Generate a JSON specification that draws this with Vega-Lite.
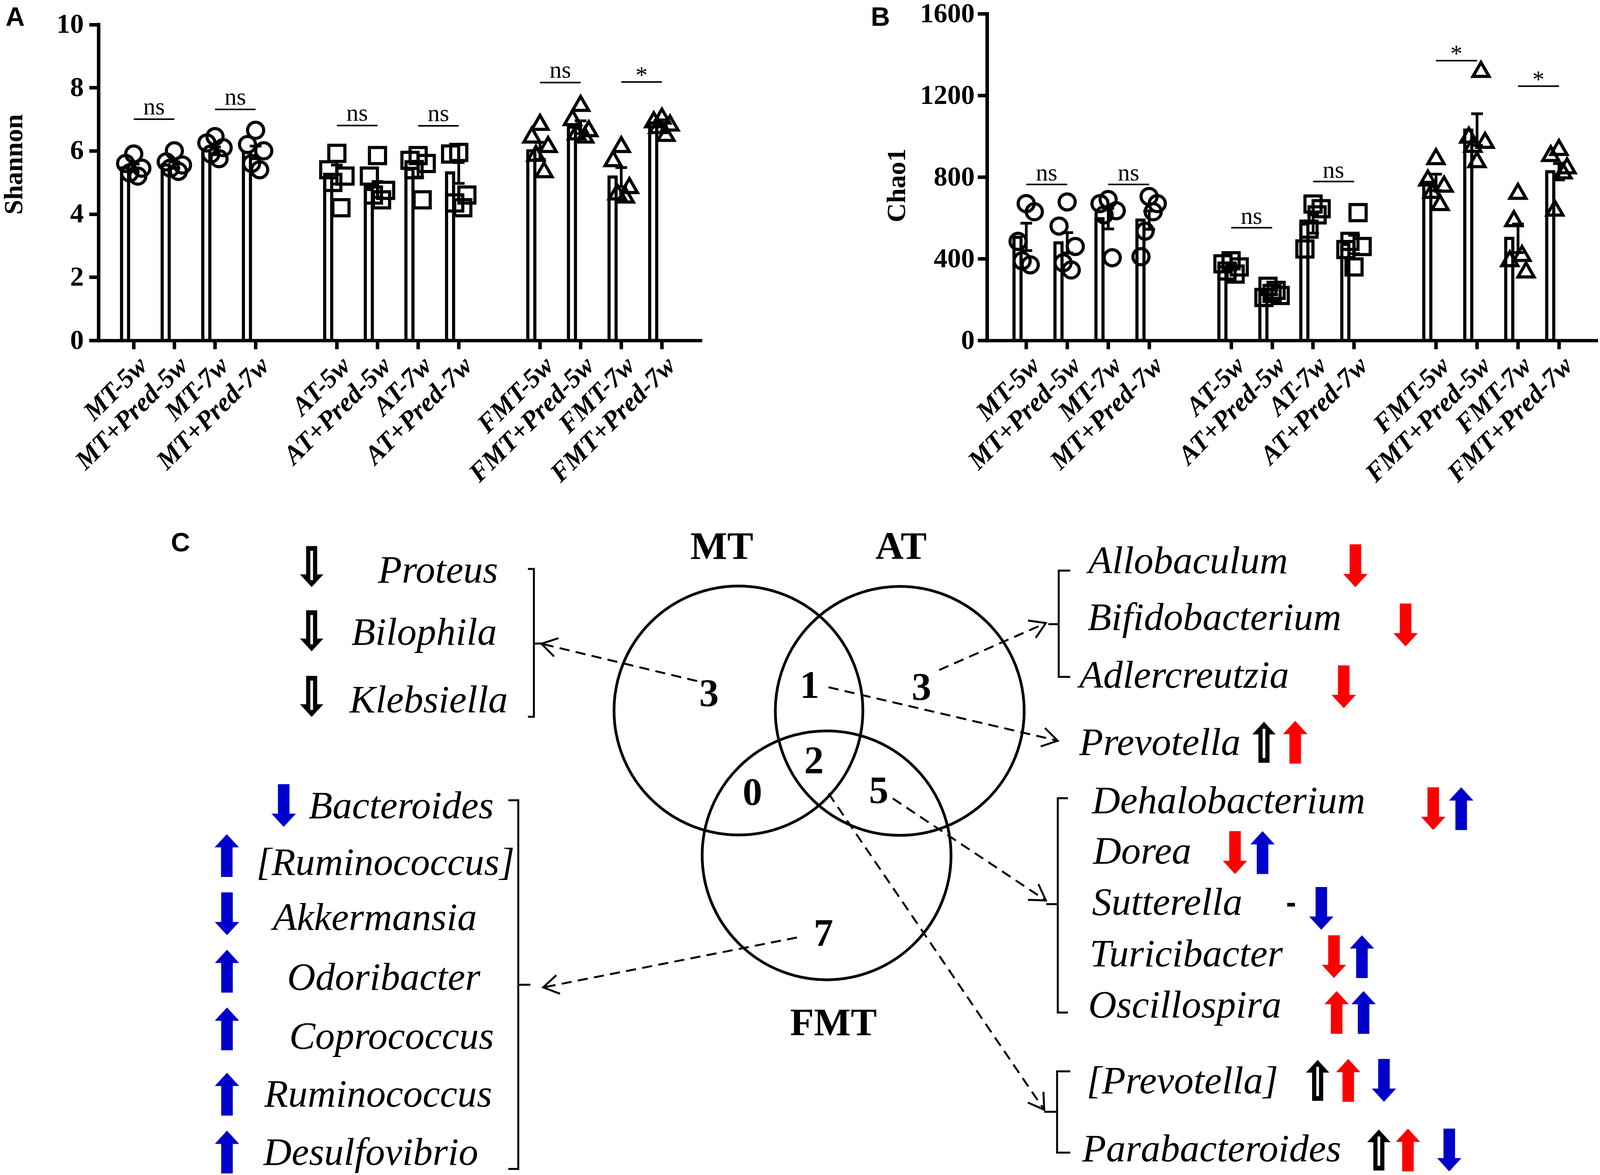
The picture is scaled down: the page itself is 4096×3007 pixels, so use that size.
{
"$schema": "https://vega.github.io/schema/vega-lite/v6.json",
"autosize": {"type": "pad"},
"padding": 0,
"background": "white",
"config": {
  "view": {"stroke": null},
  "font": "Liberation Serif",
  "axis": {"grid": false, "domainColor": "#000000", "tickColor": "#000000", "labelColor": "#000000", "titleColor": "#000000", "domainCap": "square"}
},
"datasets": {
  "shannon": [
    {"g":"MT-5w","v":5.46,"lo":5.34,"hi":5.58},
    {"g":"MT+Pred-5w","v":5.55,"lo":5.45,"hi":5.65},
    {"g":"MT-7w","v":6.0,"lo":5.88,"hi":6.12},
    {"g":"MT+Pred-7w","v":5.95,"lo":5.75,"hi":6.15},
    {"g":"AT-5w","v":5.25,"lo":4.95,"hi":5.55},
    {"g":"AT+Pred-5w","v":4.78,"lo":4.53,"hi":5.03},
    {"g":"AT-7w","v":5.42,"lo":5.17,"hi":5.67},
    {"g":"AT+Pred-7w","v":5.3,"lo":4.97,"hi":5.63},
    {"g":"FMT-5w","v":6.0,"lo":5.73,"hi":6.27},
    {"g":"FMT+Pred-5w","v":6.75,"lo":6.55,"hi":6.95},
    {"g":"FMT-7w","v":5.17,"lo":4.87,"hi":5.47},
    {"g":"FMT+Pred-7w","v":6.88,"lo":6.78,"hi":6.98}
  ],
  "shannonPts": [
    {"g":"MT-5w","k":"MT","r":3,"v":5.9},{"g":"MT-5w","k":"MT","r":1,"v":5.6},{"g":"MT-5w","k":"MT","r":5,"v":5.45},{"g":"MT-5w","k":"MT","r":2,"v":5.3},{"g":"MT-5w","k":"MT","r":4,"v":5.2},
    {"g":"MT+Pred-5w","k":"MT","r":3,"v":6.0},{"g":"MT+Pred-5w","k":"MT","r":1,"v":5.65},{"g":"MT+Pred-5w","k":"MT","r":5,"v":5.55},{"g":"MT+Pred-5w","k":"MT","r":2,"v":5.45},{"g":"MT+Pred-5w","k":"MT","r":4,"v":5.35},
    {"g":"MT-7w","k":"MT","r":3,"v":6.45},{"g":"MT-7w","k":"MT","r":1,"v":6.25},{"g":"MT-7w","k":"MT","r":5,"v":6.1},{"g":"MT-7w","k":"MT","r":2,"v":5.9},{"g":"MT-7w","k":"MT","r":4,"v":5.75},
    {"g":"MT+Pred-7w","k":"MT","r":3,"v":6.65},{"g":"MT+Pred-7w","k":"MT","r":1,"v":6.2},{"g":"MT+Pred-7w","k":"MT","r":5,"v":6.0},{"g":"MT+Pred-7w","k":"MT","r":2,"v":5.6},{"g":"MT+Pred-7w","k":"MT","r":4,"v":5.4},
    {"g":"AT-5w","k":"AT","r":3,"v":5.92},{"g":"AT-5w","k":"AT","r":1,"v":5.4},{"g":"AT-5w","k":"AT","r":5,"v":5.2},{"g":"AT-5w","k":"AT","r":2,"v":5.0},{"g":"AT-5w","k":"AT","r":4,"v":4.2},
    {"g":"AT+Pred-5w","k":"AT","r":3,"v":5.85},{"g":"AT+Pred-5w","k":"AT","r":1,"v":5.2},{"g":"AT+Pred-5w","k":"AT","r":5,"v":4.75},{"g":"AT+Pred-5w","k":"AT","r":2,"v":4.6},{"g":"AT+Pred-5w","k":"AT","r":4,"v":4.45},
    {"g":"AT-7w","k":"AT","r":3,"v":5.85},{"g":"AT-7w","k":"AT","r":1,"v":5.7},{"g":"AT-7w","k":"AT","r":5,"v":5.6},{"g":"AT-7w","k":"AT","r":2,"v":5.4},{"g":"AT-7w","k":"AT","r":4,"v":4.45},
    {"g":"AT+Pred-7w","k":"AT","r":3,"v":5.95},{"g":"AT+Pred-7w","k":"AT","r":1,"v":5.9},{"g":"AT+Pred-7w","k":"AT","r":5,"v":4.6},{"g":"AT+Pred-7w","k":"AT","r":2,"v":4.35},{"g":"AT+Pred-7w","k":"AT","r":4,"v":4.2},
    {"g":"FMT-5w","k":"FMT","r":3,"v":6.9},{"g":"FMT-5w","k":"FMT","r":1,"v":6.5},{"g":"FMT-5w","k":"FMT","r":5,"v":6.2},{"g":"FMT-5w","k":"FMT","r":2,"v":5.92},{"g":"FMT-5w","k":"FMT","r":4,"v":5.4},
    {"g":"FMT+Pred-5w","k":"FMT","r":3,"v":7.5},{"g":"FMT+Pred-5w","k":"FMT","r":1,"v":7.05},{"g":"FMT+Pred-5w","k":"FMT","r":5,"v":6.7},{"g":"FMT+Pred-5w","k":"FMT","r":2,"v":6.6},{"g":"FMT+Pred-5w","k":"FMT","r":4,"v":6.5},
    {"g":"FMT-7w","k":"FMT","r":3,"v":6.2},{"g":"FMT-7w","k":"FMT","r":1,"v":5.75},{"g":"FMT-7w","k":"FMT","r":5,"v":4.9},{"g":"FMT-7w","k":"FMT","r":2,"v":4.7},{"g":"FMT-7w","k":"FMT","r":4,"v":4.6},
    {"g":"FMT+Pred-7w","k":"FMT","r":3,"v":7.1},{"g":"FMT+Pred-7w","k":"FMT","r":1,"v":6.98},{"g":"FMT+Pred-7w","k":"FMT","r":5,"v":6.88},{"g":"FMT+Pred-7w","k":"FMT","r":2,"v":6.8},{"g":"FMT+Pred-7w","k":"FMT","r":4,"v":6.55}
  ],
  "sigA": [
    {"a":"MT-5w","b":"MT+Pred-5w","y":7.0,"t":"ns"},
    {"a":"MT-7w","b":"MT+Pred-7w","y":7.31,"t":"ns"},
    {"a":"AT-5w","b":"AT+Pred-5w","y":6.8,"t":"ns"},
    {"a":"AT-7w","b":"AT+Pred-7w","y":6.79,"t":"ns"},
    {"a":"FMT-5w","b":"FMT+Pred-5w","y":8.16,"t":"ns"},
    {"a":"FMT-7w","b":"FMT+Pred-7w","y":8.18,"t":"*"}
  ],
  "chao": [
    {"g":"MT-5w","v":505,"lo":440,"hi":574},
    {"g":"MT+Pred-5w","v":478,"lo":428,"hi":528},
    {"g":"MT-7w","v":596,"lo":546,"hi":646},
    {"g":"MT+Pred-7w","v":589,"lo":544,"hi":634},
    {"g":"AT-5w","v":360,"lo":345,"hi":375},
    {"g":"AT+Pred-5w","v":235,"lo":223,"hi":247},
    {"g":"AT-7w","v":570,"lo":525,"hi":615},
    {"g":"AT+Pred-7w","v":470,"lo":425,"hi":515},
    {"g":"FMT-5w","v":774,"lo":734,"hi":814},
    {"g":"FMT+Pred-5w","v":1030,"lo":955,"hi":1110},
    {"g":"FMT-7w","v":500,"lo":430,"hi":570},
    {"g":"FMT+Pred-7w","v":826,"lo":786,"hi":866}
  ],
  "chaoPts": [
    {"g":"MT-5w","k":"MT","r":3,"v":670},{"g":"MT-5w","k":"MT","r":5,"v":630},{"g":"MT-5w","k":"MT","r":1,"v":485},{"g":"MT-5w","k":"MT","r":2,"v":390},{"g":"MT-5w","k":"MT","r":4,"v":370},
    {"g":"MT+Pred-5w","k":"MT","r":3,"v":678},{"g":"MT+Pred-5w","k":"MT","r":1,"v":560},{"g":"MT+Pred-5w","k":"MT","r":5,"v":460},{"g":"MT+Pred-5w","k":"MT","r":2,"v":380},{"g":"MT+Pred-5w","k":"MT","r":4,"v":345},
    {"g":"MT-7w","k":"MT","r":3,"v":690},{"g":"MT-7w","k":"MT","r":1,"v":670},{"g":"MT-7w","k":"MT","r":5,"v":635},{"g":"MT-7w","k":"MT","r":2,"v":615},{"g":"MT-7w","k":"MT","r":4,"v":405},
    {"g":"MT+Pred-7w","k":"MT","r":3,"v":705},{"g":"MT+Pred-7w","k":"MT","r":5,"v":670},{"g":"MT+Pred-7w","k":"MT","r":4,"v":630},{"g":"MT+Pred-7w","k":"MT","r":2,"v":535},{"g":"MT+Pred-7w","k":"MT","r":1,"v":410},
    {"g":"AT-5w","k":"AT","r":3,"v":390},{"g":"AT-5w","k":"AT","r":1,"v":375},{"g":"AT-5w","k":"AT","r":5,"v":360},{"g":"AT-5w","k":"AT","r":2,"v":340},{"g":"AT-5w","k":"AT","r":4,"v":325},
    {"g":"AT+Pred-5w","k":"AT","r":2,"v":265},{"g":"AT+Pred-5w","k":"AT","r":4,"v":245},{"g":"AT+Pred-5w","k":"AT","r":3,"v":230},{"g":"AT+Pred-5w","k":"AT","r":5,"v":220},{"g":"AT+Pred-5w","k":"AT","r":1,"v":210},
    {"g":"AT-7w","k":"AT","r":3,"v":668},{"g":"AT-7w","k":"AT","r":5,"v":645},{"g":"AT-7w","k":"AT","r":4,"v":615},{"g":"AT-7w","k":"AT","r":2,"v":545},{"g":"AT-7w","k":"AT","r":1,"v":448},
    {"g":"AT+Pred-7w","k":"AT","r":4,"v":626},{"g":"AT+Pred-7w","k":"AT","r":2,"v":485},{"g":"AT+Pred-7w","k":"AT","r":5,"v":460},{"g":"AT+Pred-7w","k":"AT","r":1,"v":445},{"g":"AT+Pred-7w","k":"AT","r":3,"v":360},
    {"g":"FMT-5w","k":"FMT","r":3,"v":900},{"g":"FMT-5w","k":"FMT","r":1,"v":795},{"g":"FMT-5w","k":"FMT","r":5,"v":765},{"g":"FMT-5w","k":"FMT","r":2,"v":735},{"g":"FMT-5w","k":"FMT","r":4,"v":675},
    {"g":"FMT+Pred-5w","k":"FMT","r":4,"v":1327},{"g":"FMT+Pred-5w","k":"FMT","r":1,"v":1005},{"g":"FMT+Pred-5w","k":"FMT","r":5,"v":980},{"g":"FMT+Pred-5w","k":"FMT","r":2,"v":960},{"g":"FMT+Pred-5w","k":"FMT","r":3,"v":885},
    {"g":"FMT-7w","k":"FMT","r":3,"v":730},{"g":"FMT-7w","k":"FMT","r":2,"v":596},{"g":"FMT-7w","k":"FMT","r":4,"v":426},{"g":"FMT-7w","k":"FMT","r":1,"v":400},{"g":"FMT-7w","k":"FMT","r":5,"v":345},
    {"g":"FMT+Pred-7w","k":"FMT","r":3,"v":945},{"g":"FMT+Pred-7w","k":"FMT","r":1,"v":915},{"g":"FMT+Pred-7w","k":"FMT","r":5,"v":855},{"g":"FMT+Pred-7w","k":"FMT","r":4,"v":830},{"g":"FMT+Pred-7w","k":"FMT","r":2,"v":648}
  ],
  "sigB": [
    {"a":"MT-5w","b":"MT+Pred-5w","y":764,"t":"ns"},
    {"a":"MT-7w","b":"MT+Pred-7w","y":764,"t":"ns"},
    {"a":"AT-5w","b":"AT+Pred-5w","y":552,"t":"ns"},
    {"a":"AT-7w","b":"AT+Pred-7w","y":778,"t":"ns"},
    {"a":"FMT-5w","b":"FMT+Pred-5w","y":1370,"t":"*"},
    {"a":"FMT-7w","b":"FMT+Pred-7w","y":1245,"t":"*"}
  ],
  "circles": [
    {"set":"MT","x":723.3,"y":693.8},
    {"set":"AT","x":881.4,"y":694.2},
    {"set":"FMT","x":809.7,"y":835.7}
  ],
  "vennText": [
    {"t":"MT","x":707,"y":545},{"t":"AT","x":882.7,"y":545},{"t":"FMT","x":816.4,"y":1012},
    {"t":"3","x":694.4,"y":689},{"t":"1","x":793,"y":681.6},{"t":"3","x":902.7,"y":683},
    {"t":"2","x":797.3,"y":755},{"t":"0","x":737,"y":786},{"t":"5","x":860.8,"y":784.5},{"t":"7","x":806.6,"y":924}
  ],
  "dashes": [
    {"id":1,"o":0,"x":682.8,"y":665},{"id":1,"o":1,"x":530.2,"y":628.4},
    {"id":2,"o":0,"x":920,"y":654.2},{"id":2,"o":1,"x":1024.6,"y":608.1},
    {"id":3,"o":0,"x":811.6,"y":671},{"id":3,"o":1,"x":1036.2,"y":723.4},
    {"id":4,"o":0,"x":874.6,"y":780},{"id":4,"o":1,"x":1024.6,"y":879.9},
    {"id":5,"o":0,"x":811.6,"y":775},{"id":5,"o":1,"x":1023,"y":1085},
    {"id":6,"o":0,"x":780.7,"y":916.2},{"id":6,"o":1,"x":531.9,"y":965.1}
  ],
  "heads": [
    {"x":530.2,"y":628.4,"a":193.5},{"x":1024.6,"y":608.1,"a":-23.8},{"x":1036.2,"y":723.4,"a":13.1},
    {"x":1024.6,"y":879.9,"a":33.7},{"x":1023,"y":1085,"a":55.7},{"x":531.9,"y":965.1,"a":168.9}
  ],
  "brackets": [
    {"id":"b1","o":0,"x":517,"y":555.1},{"id":"b1","o":1,"x":522.8,"y":555.1},{"id":"b1","o":2,"x":522.8,"y":699.9},{"id":"b1","o":3,"x":517,"y":699.9},
    {"id":"t1","o":0,"x":522.8,"y":628.2},{"id":"t1","o":1,"x":530,"y":628.2},
    {"id":"b2","o":0,"x":497.7,"y":781.8},{"id":"b2","o":1,"x":507.5,"y":781.8},{"id":"b2","o":2,"x":507.5,"y":1143},{"id":"b2","o":3,"x":497.7,"y":1143},
    {"id":"t2","o":0,"x":507.5,"y":962.5},{"id":"t2","o":1,"x":519.4,"y":962.5},
    {"id":"b3","o":0,"x":1048.5,"y":556.7},{"id":"b3","o":1,"x":1037.2,"y":556.7},{"id":"b3","o":2,"x":1037.2,"y":660.9},{"id":"b3","o":3,"x":1048.5,"y":660.9},
    {"id":"t3","o":0,"x":1037.2,"y":609.2},{"id":"t3","o":1,"x":1027,"y":609.2},
    {"id":"b4","o":0,"x":1046.2,"y":779.7},{"id":"b4","o":1,"x":1036.3,"y":779.7},{"id":"b4","o":2,"x":1036.3,"y":989.7},{"id":"b4","o":3,"x":1046.2,"y":989.7},
    {"id":"t4","o":0,"x":1036.3,"y":883.5},{"id":"t4","o":1,"x":1025,"y":883.5},
    {"id":"b5","o":0,"x":1048.5,"y":1047.3},{"id":"b5","o":1,"x":1035.6,"y":1047.3},{"id":"b5","o":2,"x":1035.6,"y":1127},{"id":"b5","o":3,"x":1048.5,"y":1127},
    {"id":"t5","o":0,"x":1035.6,"y":1087},{"id":"t5","o":1,"x":1023,"y":1087}
  ],
  "genera": [
    {"t":"Proteus","x":370,"y":568.5},
    {"t":"Bilophila","x":344,"y":629.4},
    {"t":"Klebsiella","x":342,"y":695.8},
    {"t":"Bacteroides","x":302,"y":799.5},
    {"t":"[Ruminococcus]","x":250.8,"y":854.9},
    {"t":"Akkermansia","x":267,"y":908.7},
    {"t":"Odoribacter","x":281,"y":967.5},
    {"t":"Coprococcus","x":283,"y":1025.4},
    {"t":"Ruminococcus","x":258.5,"y":1082},
    {"t":"Desulfovibrio","x":257.7,"y":1138.8},
    {"t":"Allobaculum","x":1066.2,"y":559.2},
    {"t":"Bifidobacterium","x":1065.4,"y":614.7},
    {"t":"Adlercreutzia","x":1057.4,"y":671.4},
    {"t":"Prevotella","x":1057.4,"y":737.3},
    {"t":"Dehalobacterium","x":1069.8,"y":794.4},
    {"t":"Dorea","x":1070.8,"y":843.6},
    {"t":"Sutterella","x":1069.8,"y":894},
    {"t":"Turicibacter","x":1067.5,"y":944.4},
    {"t":"Oscillospira","x":1066.2,"y":994.8},
    {"t":"[Prevotella]","x":1064.5,"y":1069},
    {"t":"Parabacteroides","x":1060.3,"y":1135.5}
  ],
  "arrows": [
    {"model":"MT","dir":"down","x":305,"y":552.8},
    {"model":"MT","dir":"down","x":305,"y":615.7},
    {"model":"MT","dir":"down","x":305,"y":680},
    {"model":"FMT","dir":"down","x":277.6,"y":786.9},
    {"model":"FMT","dir":"up","x":221.8,"y":835.9},
    {"model":"FMT","dir":"down","x":222,"y":893},
    {"model":"FMT","dir":"up","x":222,"y":949.2},
    {"model":"FMT","dir":"up","x":222,"y":1005.7},
    {"model":"FMT","dir":"up","x":222,"y":1069.7},
    {"model":"FMT","dir":"up","x":222,"y":1126.4},
    {"model":"AT","dir":"down","x":1328,"y":552},
    {"model":"AT","dir":"down","x":1377.2,"y":610},
    {"model":"AT","dir":"down","x":1316.6,"y":670.5},
    {"model":"MT","dir":"up","x":1238.4,"y":724.9},
    {"model":"AT","dir":"up","x":1269,"y":724.9},
    {"model":"AT","dir":"down","x":1404.3,"y":790},
    {"model":"FMT","dir":"up","x":1431.7,"y":790},
    {"model":"AT","dir":"down","x":1210,"y":833},
    {"model":"FMT","dir":"up","x":1237,"y":833},
    {"model":"FMT","dir":"down","x":1294.6,"y":887.7},
    {"model":"AT","dir":"down","x":1307,"y":935},
    {"model":"FMT","dir":"up","x":1334.4,"y":935},
    {"model":"AT","dir":"up","x":1309.6,"y":989.6},
    {"model":"FMT","dir":"up","x":1336,"y":989.6},
    {"model":"MT","dir":"up","x":1291,"y":1056.2},
    {"model":"AT","dir":"up","x":1321,"y":1056.2},
    {"model":"FMT","dir":"down","x":1356,"y":1056.2},
    {"model":"MT","dir":"up","x":1351,"y":1124.4},
    {"model":"AT","dir":"up","x":1379.5,"y":1124.4},
    {"model":"FMT","dir":"down","x":1420,"y":1124.4}
  ],
  "panels": [
    {"t":"A","x":5,"y":22.8},{"t":"B","x":853,"y":23},{"t":"C","x":167,"y":538}
  ],
  "corner": [
    {"x":0,"y":0}
  ]
},
"concat": [
  {
    "width": 1541, "height": 836.2,
    "encoding": {
      "x": {"field": "g", "type": "nominal", "sort": null,
        "scale": {"domain": ["MT-5w","MT+Pred-5w","MT-7w","MT+Pred-7w"," ","AT-5w","AT+Pred-5w","AT-7w","AT+Pred-7w","  ","FMT-5w","FMT+Pred-5w","FMT-7w","FMT+Pred-7w"], "paddingInner": 0.4, "paddingOuter": 0.6085, "align": 0.4675},
        "axis": {"values": ["MT-5w","MT+Pred-5w","MT-7w","MT+Pred-7w","AT-5w","AT+Pred-5w","AT-7w","AT+Pred-7w","FMT-5w","FMT+Pred-5w","FMT-7w","FMT+Pred-7w"], "title": null, "labelAngle": -45, "labelAlign": "right", "labelBaseline": "top", "labelFont": "Liberation Serif", "labelFontSize": 68, "labelFontWeight": "bold", "labelFontStyle": "italic", "labelPadding": 8, "labelLimit": 2000, "labelOverlap": false, "tickSize": 22, "tickWidth": 9, "domainWidth": 8.5}
      }
    },
    "layer": [
      {"data": {"name": "shannon"}, "mark": {"type": "bar", "fill": "#ffffff", "stroke": "#000000", "strokeWidth": 8},
       "encoding": {"y": {"field": "v", "type": "quantitative", "scale": {"domain": [0, 10], "range": [836.2, 27.5], "nice": false},
         "axis": {"values": [0,2,4,6,8,10], "format": "d", "title": "Shannon", "titleFont": "Liberation Serif", "titleFontSize": 68, "titleFontWeight": "bold", "titleAngle": -90, "titleAlign": "center", "titleBaseline": "alphabetic", "titleX": -196, "titleY": 385.3, "labelFont": "Liberation Serif", "labelFontSize": 70, "labelFontWeight": "bold", "labelPadding": 14, "tickSize": 24, "tickWidth": 9, "domainWidth": 9}}}},
      {"data": {"name": "shannon"}, "mark": {"type": "rule", "strokeWidth": 7, "color": "#000000"},
       "encoding": {"y": {"field": "lo", "type": "quantitative"}, "y2": {"field": "hi"}}},
      {"data": {"name": "shannon"}, "mark": {"type": "tick", "orient": "horizontal", "size": 30, "thickness": 7, "color": "#000000", "opacity": 1},
       "encoding": {"y": {"field": "hi", "type": "quantitative"}}},
      {"data": {"name": "shannon"}, "mark": {"type": "tick", "orient": "horizontal", "size": 30, "thickness": 7, "color": "#000000", "opacity": 1},
       "encoding": {"y": {"field": "lo", "type": "quantitative"}}},
      {"data": {"name": "shannonPts"}, "mark": {"type": "point", "filled": false, "size": 1700, "strokeWidth": 8, "color": "#000000", "opacity": 1},
       "encoding": {"xOffset": {"field": "r", "type": "nominal", "scale": {"paddingOuter": 1, "paddingInner": 0}},
         "y": {"field": "v", "type": "quantitative"},
         "shape": {"field": "k", "type": "nominal", "scale": {"domain": ["MT","AT","FMT"], "range": ["circle","square","triangle-up"]}, "legend": null}}},
      {"data": {"name": "sigA"}, "mark": {"type": "rule", "strokeWidth": 4, "color": "#000000"},
       "encoding": {"x": {"field": "a", "type": "nominal"}, "x2": {"field": "b"}, "y": {"field": "y", "type": "quantitative"}}},
      {"data": {"name": "sigA"}, "transform": [{"filter": "datum.t === 'ns'"}],
       "mark": {"type": "text", "font": "Liberation Serif", "fontSize": 62, "dx": 52, "dy": -12, "align": "center", "baseline": "alphabetic", "color": "#000000"},
       "encoding": {"x": {"field": "a", "type": "nominal"}, "y": {"field": "y", "type": "quantitative"}, "text": {"field": "t"}}},
      {"data": {"name": "sigA"}, "transform": [{"filter": "datum.t === '*'"}],
       "mark": {"type": "text", "font": "Liberation Serif", "fontSize": 62, "dx": 52, "dy": 2, "align": "center", "baseline": "alphabetic", "color": "#000000"},
       "encoding": {"x": {"field": "a", "type": "nominal"}, "y": {"field": "y", "type": "quantitative"}, "text": {"field": "t"}}}
    ]
  },
  {
    "width": 1563.6, "height": 836.2,
    "encoding": {
      "x": {"field": "g", "type": "nominal", "sort": null,
        "scale": {"domain": ["MT-5w","MT+Pred-5w","MT-7w","MT+Pred-7w"," ","AT-5w","AT+Pred-5w","AT-7w","AT+Pred-7w","  ","FMT-5w","FMT+Pred-5w","FMT-7w","FMT+Pred-7w"], "paddingInner": 0.4, "paddingOuter": 0.6525, "align": 0.505},
        "axis": {"values": ["MT-5w","MT+Pred-5w","MT-7w","MT+Pred-7w","AT-5w","AT+Pred-5w","AT-7w","AT+Pred-7w","FMT-5w","FMT+Pred-5w","FMT-7w","FMT+Pred-7w"], "title": null, "labelAngle": -45, "labelAlign": "right", "labelBaseline": "top", "labelFont": "Liberation Serif", "labelFontSize": 68, "labelFontWeight": "bold", "labelFontStyle": "italic", "labelPadding": 8, "labelLimit": 2000, "labelOverlap": false, "tickSize": 22, "tickWidth": 9, "domainWidth": 8.5}
      }
    },
    "layer": [
      {"data": {"name": "chao"}, "mark": {"type": "bar", "fill": "#ffffff", "stroke": "#000000", "strokeWidth": 8},
       "encoding": {"y": {"field": "v", "type": "quantitative", "scale": {"domain": [0, 1600], "nice": false},
         "axis": {"values": [0,400,800,1200,1600], "format": "d", "title": "Chao1", "titleFont": "Liberation Serif", "titleFontSize": 68, "titleFontWeight": "bold", "titleAngle": -90, "titleAlign": "center", "titleBaseline": "alphabetic", "titleX": -210, "titleY": 439, "labelFont": "Liberation Serif", "labelFontSize": 70, "labelFontWeight": "bold", "labelPadding": 8, "tickSize": 24, "tickWidth": 9, "domainWidth": 9}}}},
      {"data": {"name": "chao"}, "mark": {"type": "rule", "strokeWidth": 7, "color": "#000000"},
       "encoding": {"y": {"field": "lo", "type": "quantitative"}, "y2": {"field": "hi"}}},
      {"data": {"name": "chao"}, "mark": {"type": "tick", "orient": "horizontal", "size": 30, "thickness": 7, "color": "#000000", "opacity": 1},
       "encoding": {"y": {"field": "hi", "type": "quantitative"}}},
      {"data": {"name": "chao"}, "mark": {"type": "tick", "orient": "horizontal", "size": 30, "thickness": 7, "color": "#000000", "opacity": 1},
       "encoding": {"y": {"field": "lo", "type": "quantitative"}}},
      {"data": {"name": "chaoPts"}, "mark": {"type": "point", "filled": false, "size": 1700, "strokeWidth": 8, "color": "#000000", "opacity": 1},
       "encoding": {"xOffset": {"field": "r", "type": "nominal", "scale": {"paddingOuter": 1, "paddingInner": 0}},
         "y": {"field": "v", "type": "quantitative"},
         "shape": {"field": "k", "type": "nominal", "scale": {"domain": ["MT","AT","FMT"], "range": ["circle","square","triangle-up"]}, "legend": null}}},
      {"data": {"name": "sigB"}, "mark": {"type": "rule", "strokeWidth": 4, "color": "#000000"},
       "encoding": {"x": {"field": "a", "type": "nominal"}, "x2": {"field": "b"}, "y": {"field": "y", "type": "quantitative"}}},
      {"data": {"name": "sigB"}, "transform": [{"filter": "datum.t === 'ns'"}],
       "mark": {"type": "text", "font": "Liberation Serif", "fontSize": 62, "dx": 52, "dy": -10, "align": "center", "baseline": "alphabetic", "color": "#000000"},
       "encoding": {"x": {"field": "a", "type": "nominal"}, "y": {"field": "y", "type": "quantitative"}, "text": {"field": "t"}}},
      {"data": {"name": "sigB"}, "transform": [{"filter": "datum.t === '*'"}],
       "mark": {"type": "text", "font": "Liberation Serif", "fontSize": 62, "dx": 52, "dy": 2, "align": "center", "baseline": "alphabetic", "color": "#000000"},
       "encoding": {"x": {"field": "a", "type": "nominal"}, "y": {"field": "y", "type": "quantitative"}, "text": {"field": "t"}}}
    ]
  },
  {
    "width": 1541, "height": 1752.7,
    "encoding": {
      "x": {"field": "x", "type": "quantitative", "scale": {"domain": [96, 686], "nice": false, "zero": false}, "axis": null},
      "y": {"field": "y", "type": "quantitative", "scale": {"domain": [480, 1151], "nice": false, "zero": false, "reverse": true}, "axis": null}
    },
    "resolve": {"scale": {"shape": "independent"}},
    "layer": [
      {"data": {"name": "corner"}, "mark": {"type": "point", "shape": "square", "size": 1, "filled": true, "color": "#ffffff", "opacity": 1}},
      {"data": {"name": "circles"}, "mark": {"type": "point", "shape": "circle", "size": 405800, "filled": false, "strokeWidth": 7, "color": "#000000", "opacity": 1}},
      {"data": {"name": "dashes"}, "mark": {"type": "line", "strokeDash": [26, 16], "strokeWidth": 5, "color": "#000000"},
       "encoding": {"detail": {"field": "id"}, "order": {"field": "o"}}},
      {"data": {"name": "heads"}, "mark": {"type": "point", "shape": "M-1,-0.62L0,0L-1,0.62", "size": 6100, "filled": false, "strokeWidth": 5, "color": "#000000", "opacity": 1},
       "encoding": {"angle": {"field": "a", "type": "quantitative", "scale": null}}},
      {"data": {"name": "brackets"}, "mark": {"type": "line", "strokeWidth": 5, "color": "#000000"},
       "encoding": {"detail": {"field": "id"}, "order": {"field": "o"}}},
      {"data": {"name": "vennText"}, "mark": {"type": "text", "font": "Liberation Serif", "fontWeight": "bold", "fontSize": 100, "align": "center", "baseline": "alphabetic", "color": "#000000"},
       "encoding": {"text": {"field": "t"}}},
      {"data": {"name": "genera"}, "mark": {"type": "text", "font": "Liberation Serif", "fontStyle": "italic", "fontSize": 100, "align": "left", "baseline": "alphabetic", "color": "#000000"},
       "encoding": {"text": {"field": "t"}}},
      {"data": {"name": "arrows"}, "transform": [{"filter": "datum.model === 'MT'"}],
       "mark": {"type": "point", "filled": true, "size": 11000, "strokeWidth": 0, "opacity": 1},
       "encoding": {
         "shape": {"field": "dir", "type": "nominal", "scale": {"domain": ["up","down"], "range": ["M0,-1L0.57,-0.38L0.27,-0.38L0.27,1L-0.27,1L-0.27,-0.38L-0.57,-0.38ZM-0.066,-0.66L-0.066,0.77L0.066,0.77L0.066,-0.66Z", "M0,1L0.57,0.38L0.27,0.38L0.27,-1L-0.27,-1L-0.27,0.38L-0.57,0.38ZM-0.066,0.66L-0.066,-0.77L0.066,-0.77L0.066,0.66Z"]}, "legend": null},
         "fill": {"field": "model", "type": "nominal", "scale": {"domain": ["MT","AT","FMT"], "range": ["#000000","#ff0000","#0000cc"]}, "legend": null}}},
      {"data": {"name": "arrows"}, "transform": [{"filter": "datum.model !== 'MT'"}],
       "mark": {"type": "point", "filled": true, "size": 12000, "strokeWidth": 0, "opacity": 1},
       "encoding": {
         "shape": {"field": "dir", "type": "nominal", "scale": {"domain": ["up","down"], "range": ["M0,-1L0.57,-0.38L0.27,-0.38L0.27,1L-0.27,1L-0.27,-0.38L-0.57,-0.38Z", "M0,1L0.57,0.38L0.27,0.38L0.27,-1L-0.27,-1L-0.27,0.38L-0.57,0.38Z"]}, "legend": null},
         "fill": {"field": "model", "type": "nominal", "scale": {"domain": ["MT","AT","FMT"], "range": ["#000000","#ff0000","#0000cc"]}, "legend": null}}},
      {"data": {"values": [{"t": "-", "x": 1265, "y": 892}]}, "mark": {"type": "text", "font": "Liberation Sans", "fontWeight": "bold", "fontSize": 78, "align": "center", "baseline": "alphabetic", "color": "#000000"},
       "encoding": {"text": {"field": "t"}}},
      {"data": {"name": "panels"}, "mark": {"type": "text", "font": "Liberation Sans", "fontWeight": "bold", "fontSize": 68, "align": "left", "baseline": "alphabetic", "color": "#000000"},
       "encoding": {"text": {"field": "t"}}}
    ]
  }
],
"columns": 2,
"align": "none",
"bounds": "flush",
"spacing": {"row": 387.8, "column": 733.7}
}
